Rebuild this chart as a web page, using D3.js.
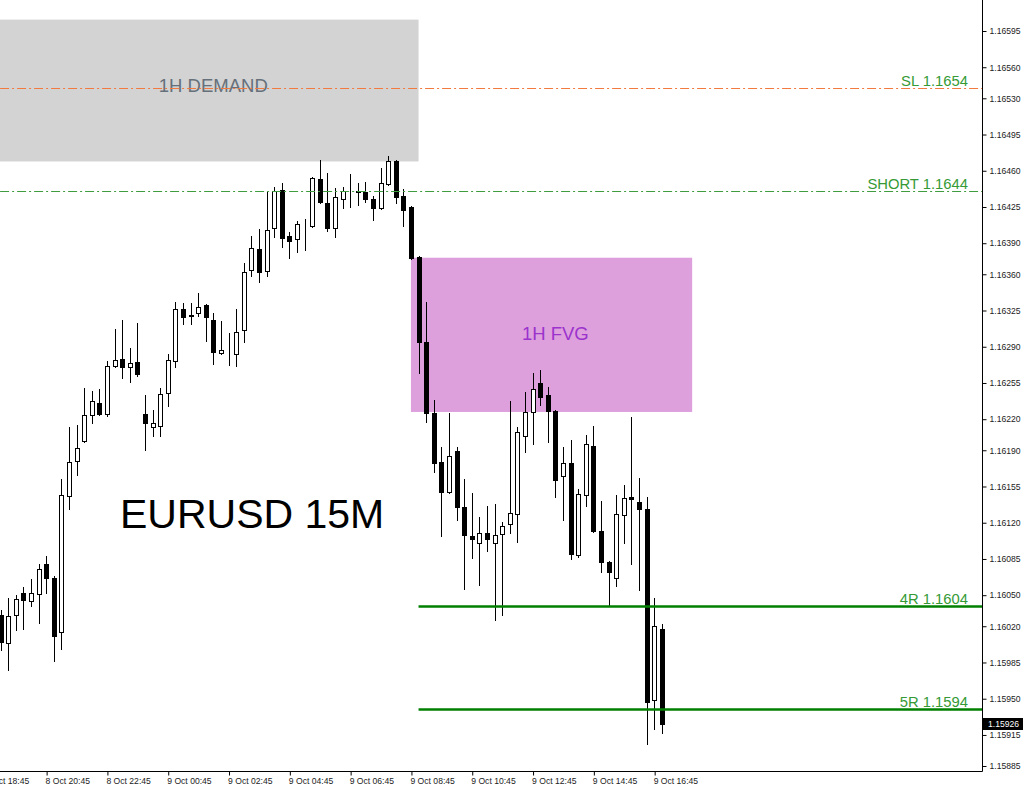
<!DOCTYPE html>
<html>
<head>
<meta charset="utf-8">
<script src="https://cdn.jsdelivr.net/npm/d3@7"></script>
<style>
  html, body { margin: 0; padding: 0; background: #ffffff; }
  svg { display: block; }
</style>
</head>
<body>
<div id="chart"></div>
<script>
// ---------------- DATA ----------------
const firstBar = "8 Oct 19:15";           // time of first candle shown (15-minute bars)
const barMinutes = 15;
const opens = [1.16031,1.16004,1.16031,1.16052,1.16044,1.16051,1.16080,1.16067,1.16014,1.16146,
  1.16180,1.16199,1.16224,1.16236,1.16225,1.16271,1.16278,1.16270,1.16275,1.16225,
  1.16212,1.16213,1.16245,1.16276,1.16326,1.16320,1.16323,1.16330,1.16316,1.16284,
  1.16285,1.16283,1.16306,1.16364,1.16384,1.16363,1.16405,1.16441,1.16397,1.16394,
  1.16410,1.16407,1.16452,1.16429,1.16405,1.16433,1.16441,1.16440,1.16439,1.16433,
  1.16424,1.16447,1.16469,1.16436,1.16425,1.16377,1.16295,1.16226,1.16179,1.16150,
  1.16189,1.16135,1.16107,1.16100,1.16110,1.16100,1.16109,1.16119,1.16128,1.16204,
  1.16227,1.16255,1.16243,1.16228,1.16165,1.16178,1.16089,1.16147,1.16194,1.16112,
  1.16082,1.16067,1.16127,1.16145,1.16140,1.16133,1.15949,1.16017];
const highs = [1.16036,1.16047,1.16050,1.16058,1.16066,1.16080,1.16088,1.16069,1.16162,1.16212,
  1.16214,1.16250,1.16247,1.16249,1.16276,1.16307,1.16316,1.16289,1.16313,1.16243,
  1.16229,1.16250,1.16283,1.16333,1.16332,1.16332,1.16342,1.16331,1.16323,1.16315,
  1.16303,1.16326,1.16371,1.16397,1.16404,1.16439,1.16444,1.16448,1.16401,1.16411,
  1.16413,1.16454,1.16470,1.16458,1.16443,1.16444,1.16457,1.16448,1.16449,1.16436,
  1.16463,1.16474,1.16470,1.16442,1.16426,1.16378,1.16333,1.16239,1.16193,1.16226,
  1.16193,1.16162,1.16149,1.16126,1.16136,1.16138,1.16121,1.16238,1.16212,1.16246,
  1.16265,1.16268,1.16251,1.16229,1.16193,1.16200,1.16153,1.16205,1.16213,1.16141,
  1.16083,1.16147,1.16156,1.16222,1.16163,1.16145,1.16047,1.16022];
const lows = [1.15997,1.15978,1.16016,1.16017,1.16040,1.16023,1.16052,1.15986,1.15998,1.16133,
  1.16166,1.16198,1.16216,1.16224,1.16223,1.16270,1.16260,1.16256,1.16262,1.16190,
  1.16204,1.16204,1.16233,1.16270,1.16312,1.16312,1.16320,1.16296,1.16273,1.16283,
  1.16272,1.16271,1.16295,1.16358,1.16353,1.16358,1.16396,1.16386,1.16376,1.16382,
  1.16383,1.16406,1.16429,1.16402,1.16396,1.16424,1.16425,1.16427,1.16430,1.16412,
  1.16423,1.16446,1.16429,1.16407,1.16375,1.16265,1.16217,1.16169,1.16107,1.16149,
  1.16123,1.16056,1.16086,1.16060,1.16093,1.16026,1.16031,1.16110,1.16101,1.16188,
  1.16196,1.16234,1.16198,1.16145,1.16123,1.16085,1.16087,1.16136,1.16111,1.16072,
  1.16041,1.16059,1.16100,1.16080,1.16055,1.15906,1.15921,1.15917];
const closes = [1.16005,1.16030,1.16046,1.16045,1.16052,1.16075,1.16067,1.16011,1.16147,1.16179,
  1.16192,1.16224,1.16238,1.16225,1.16271,1.16277,1.16270,1.16274,1.16264,1.16216,
  1.16216,1.16244,1.16277,1.16326,1.16319,1.16321,1.16328,1.16319,1.16285,1.16287,
  1.16285,1.16304,1.16362,1.16385,1.16362,1.16403,1.16440,1.16395,1.16392,1.16409,
  1.16410,1.16453,1.16430,1.16405,1.16435,1.16440,1.16441,1.16439,1.16433,1.16424,
  1.16448,1.16469,1.16435,1.16422,1.16376,1.16295,1.16226,1.16178,1.16150,1.16184,
  1.16135,1.16108,1.16104,1.16110,1.16104,1.16108,1.16117,1.16129,1.16208,1.16227,
  1.16249,1.16241,1.16228,1.16161,1.16178,1.16090,1.16148,1.16196,1.16112,1.16082,
  1.16072,1.16128,1.16144,1.16143,1.16133,1.15947,1.16020,1.15926];

const priceTicks = [1.16595,1.16560,1.16530,1.16495,1.16460,1.16425,1.16390,1.16360,1.16325,1.16290,
  1.16255,1.16220,1.16190,1.16155,1.16120,1.16085,1.16050,1.16020,1.15985,1.15950,1.15915,1.15885];
const timeTicks = ["8 Oct 18:45","8 Oct 20:45","8 Oct 22:45","9 Oct 00:45","9 Oct 02:45",
  "9 Oct 04:45","9 Oct 06:45","9 Oct 08:45","9 Oct 10:45","9 Oct 12:45","9 Oct 14:45","9 Oct 16:45"];
const currentPrice = 1.15926;

// zones
const zoneNames  = ["1H DEMAND", "1H FVG"];
const zoneStart  = ["8 Oct 17:00", "9 Oct 08:45"];
const zoneEnd    = ["9 Oct 09:00", "9 Oct 18:00"];
const zoneTop    = [1.16606, 1.16376];
const zoneBottom = [1.16469, 1.16227];
const zoneLabelTime  = ["9 Oct 02:15", "9 Oct 13:30"];
const zoneLabelPrice = [1.16542, 1.16303];

// horizontal levels
const levelNames  = ["SL 1.1654", "SHORT 1.1644", "4R 1.1604", "5R 1.1594"];
const levelPrices = [1.1654, 1.1644, 1.1604, 1.1594];
const levelStart  = ["8 Oct 17:00", "8 Oct 17:00", "9 Oct 09:00", "9 Oct 09:00"];

const title = "EURUSD 15M";

// ---------------- HELPERS ----------------
function parseT(s) {
  const [d, mon, hm] = s.split(" ");
  const [h, m] = hm.split(":").map(Number);
  return new Date(2025, 9, +d, h, m);
}
const t0 = parseT(firstBar);
const candles = opens.map((o, i) => ({
  t: new Date(t0.getTime() + i * barMinutes * 60000),
  o, h: highs[i], l: lows[i], c: closes[i]
}));

// ---------------- LAYOUT ----------------
const W = 1024, H = 790;
const plotR = 982, plotB = 771;

const svg = d3.select("#chart").append("svg")
  .attr("width", W).attr("height", H)
  .style("font-family", "'Liberation Sans', Arial, sans-serif");

const x = d3.scaleTime()
  .domain([new Date(2025, 9, 8, 19, 14), new Date(2025, 9, 10, 3, 32)])
  .range([0, plotR]);
const y = d3.scaleLinear()
  .domain([1.1588017, 1.1662495])
  .range([plotB, 0]);

svg.append("defs").append("clipPath").attr("id", "plot")
  .append("rect").attr("x", 0).attr("y", 0).attr("width", plotR).attr("height", plotB);

const plot = svg.append("g").attr("clip-path", "url(#plot)");

// zones
const zoneFill = ["#d3d3d3", "#dda0dd"];
const zoneText = ["#66707a", "#9b33cc"];
zoneNames.forEach((name, i) => {
  const x0 = x(parseT(zoneStart[i])), x1 = x(parseT(zoneEnd[i]));
  const y0 = y(zoneTop[i]), y1 = y(zoneBottom[i]);
  plot.append("rect")
    .attr("x", x0).attr("y", y0).attr("width", x1 - x0).attr("height", y1 - y0)
    .attr("fill", zoneFill[i]);
});

// candles
const cg = plot.append("g");
candles.forEach(d => {
  const xr = Math.round(x(d.t));
  cg.append("line")
    .attr("x1", xr + 0.5).attr("x2", xr + 0.5)
    .attr("y1", Math.round(y(d.h))).attr("y2", Math.round(y(d.l)) + 1)
    .attr("stroke", "#000").attr("stroke-width", 1);
  const top = Math.round(y(Math.max(d.o, d.c)));
  const bot = Math.round(y(Math.min(d.o, d.c)));
  if (d.c >= d.o) {
    cg.append("rect")
      .attr("x", xr - 1.5).attr("y", top + 0.5)
      .attr("width", 4).attr("height", Math.max(0, bot - top))
      .attr("fill", "#fff").attr("stroke", "#000").attr("stroke-width", 1);
  } else {
    cg.append("rect")
      .attr("x", xr - 2).attr("y", top)
      .attr("width", 5).attr("height", Math.max(1, bot - top + 1))
      .attr("fill", "#000");
  }
});

// zone labels
zoneNames.forEach((name, i) => {
  plot.append("text")
    .attr("x", x(parseT(zoneLabelTime[i])))
    .attr("y", y(zoneLabelPrice[i]))
    .attr("text-anchor", "middle")
    .attr("dominant-baseline", "central")
    .attr("font-size", 18.5)
    .attr("fill", zoneText[i])
    .text(name);
});

// levels
const levelColor = ["#f27a3e", "#3f9c3f", "#008000", "#008000"];
const levelDash  = ["9,3,2,3", "9,3,2,3", null, null];
const levelWidth = [1, 1, 2.5, 2.5];
levelNames.forEach((name, i) => {
  const yy = Math.round(y(levelPrices[i])) + 0.5;
  const ln = plot.append("line")
    .attr("x1", x(parseT(levelStart[i]))).attr("x2", plotR)
    .attr("y1", yy).attr("y2", yy)
    .attr("stroke", levelColor[i]).attr("stroke-width", levelWidth[i]);
  if (levelDash[i]) ln.attr("stroke-dasharray", levelDash[i]);
  svg.append("text")
    .attr("x", 968).attr("y", yy - 3)
    .attr("text-anchor", "end")
    .attr("font-size", 14.8)
    .attr("fill", "#359a35")
    .text(name);
});

// title
svg.append("text")
  .attr("x", 120).attr("y", 528)
  .attr("font-size", 41)
  .attr("fill", "#000")
  .text(title);

// axes
const yAxis = d3.axisRight(y).tickValues(priceTicks).tickFormat(d3.format(".5f"))
  .tickSize(4).tickPadding(3);
const ya = svg.append("g").attr("transform", `translate(${plotR + 0.5},0)`).call(yAxis);
ya.select(".domain").attr("d", `M0,0V${plotB + 0.5}`).attr("stroke", "#000");
ya.selectAll("text").attr("font-size", 8.6).attr("fill", "#222")
  .attr("font-family", "'Liberation Sans', Arial, sans-serif");

const fmt = d3.timeFormat("%-d %b %H:%M");
const xAxis = d3.axisBottom(x).tickValues(timeTicks.map(parseT)).tickFormat(fmt)
  .tickSize(4).tickPadding(2);
const xa = svg.append("g").attr("transform", `translate(0,${plotB + 0.5})`).call(xAxis);
xa.select(".domain").attr("d", `M0,0H${plotR + 0.5}`).attr("stroke", "#000");
xa.selectAll(".tick line").attr("transform", "translate(0.5,0)");
xa.selectAll("text").attr("font-size", 8.6).attr("fill", "#222")
  .attr("text-anchor", "start").attr("dx", -1)
  .attr("font-family", "'Liberation Sans', Arial, sans-serif");

// current price tag
const cy = y(currentPrice);
const tag = svg.append("g");
tag.append("rect").attr("x", plotR + 1).attr("y", Math.round(cy) - 6)
  .attr("width", 40).attr("height", 12).attr("fill", "#000");
tag.append("text").attr("x", plotR + 6).attr("y", Math.round(cy) + 3)
  .attr("font-size", 8.6).attr("fill", "#fff").text(d3.format(".5f")(currentPrice));
</script>
</body>
</html>
